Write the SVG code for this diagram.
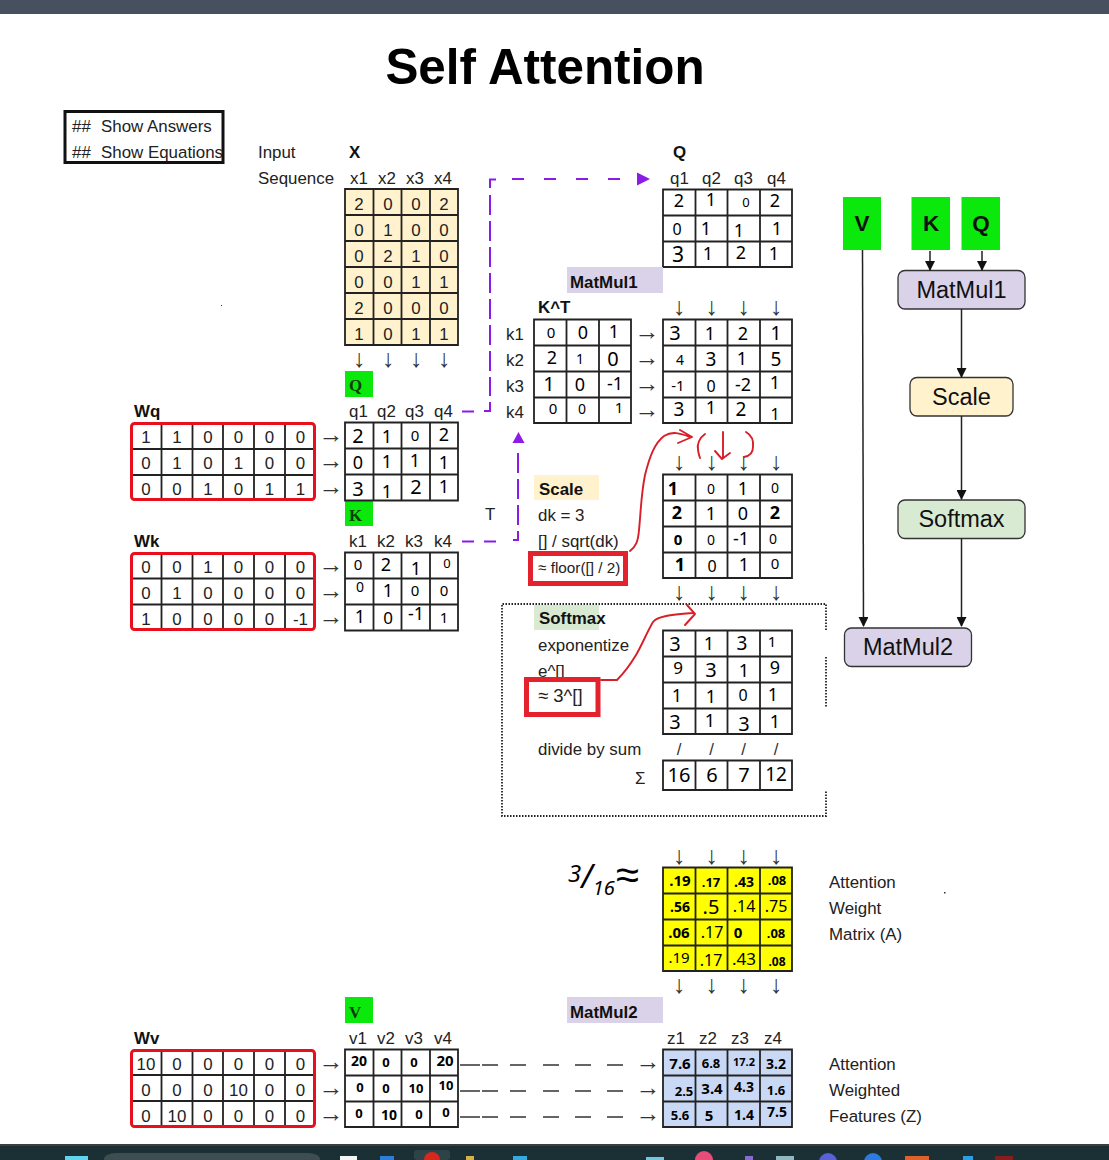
<svg xmlns="http://www.w3.org/2000/svg" width="1109" height="1160" viewBox="0 0 1109 1160">
<defs>
<marker id="ah" markerWidth="10" markerHeight="10" refX="9" refY="5" orient="auto" markerUnits="userSpaceOnUse"><path d="M0 0L10 5L0 10Z" fill="#111"/></marker>
</defs>
<style>
text{font-family:"Liberation Sans",Arial,sans-serif;font-size:16.9px;fill:#222}
.b{font-weight:700;fill:#111}
.c{text-anchor:middle}
.a{text-anchor:middle;fill:#333;font-size:25px}
.d{text-anchor:middle;fill:#333}
.s{font-family:"Liberation Serif",serif;font-weight:700;fill:#0b3a0b}
.h{font-family:"Noto Sans",sans-serif;font-size:18px;text-anchor:middle;fill:#000}
.m{font-family:"Noto Sans",sans-serif;font-size:13px;font-weight:700;text-anchor:middle;fill:#000}
.n{font-size:23.5px;text-anchor:middle;fill:#111}
.k{font-size:22.5px;font-weight:700;text-anchor:middle;fill:#111}
.g{fill:none;stroke:#222;stroke-width:1.8}
.r{fill:none;stroke:#e8101c;stroke-width:3;}
.rr{fill:none;stroke:#e3222d;stroke-width:5}
.w{fill:none;stroke:#d81e28;stroke-width:1.9;stroke-linecap:round;stroke-linejoin:round}
.p{fill:none;stroke:#8b1ce8;stroke-width:2}
.f{stroke:#222;stroke-width:1.5;fill:none}
.n1{stroke:#333;stroke-width:1.3}
</style>
<rect width="1109" height="1160" fill="#fff"/>
<rect width="1109" height="14" fill="#46505f"/>

<g id="taskbar">
<rect y="1144" width="1109" height="16" fill="#1b3035"/>
<rect y="1144" width="1109" height="2" fill="#3a3f40"/>
<rect x="65" y="1156" width="23" height="4" fill="#5fd4ee"/>
<rect x="104" y="1153" width="216" height="12" rx="12" fill="#3d4d50"/>
<rect x="340" y="1156" width="17" height="4" fill="#f4f4f4"/>
<rect x="380" y="1156" width="14" height="4" fill="#2b7fd6"/>
<rect x="414" y="1150" width="36" height="10" rx="3" fill="#2d4347"/>
<circle cx="432" cy="1160" r="8" fill="#d8281e"/>
<rect x="466" y="1156" width="8" height="4" fill="#d8b04a"/>
<rect x="513" y="1156" width="14" height="4" fill="#35a8e0"/>
<rect x="646" y="1157" width="18" height="3" fill="#6fc8e0"/>
<circle cx="704" cy="1160" r="9" fill="#e84c78"/>
<rect x="745" y="1156" width="8" height="4" fill="#8a6ad0"/>
<rect x="776" y="1156" width="18" height="4" fill="#8fb8c0"/>
<circle cx="828" cy="1162" r="9" fill="#5a60d8"/>
<circle cx="873" cy="1162" r="9" fill="#2f7ae0"/>
<rect x="905" y="1156" width="24" height="4" fill="#e0602a"/>
<rect x="963" y="1156" width="10" height="4" fill="#2d9fe0"/>
<rect x="995" y="1156" width="18" height="4" fill="#8a1c1c"/>
</g>

<text id="title" x="545" y="84" text-anchor="middle" style="font-size:49.400px;font-weight:700;fill:#000">Self Attention</text>
<rect x="221" y="305" width="1" height="1" fill="#333"/>
<rect x="944" y="892" width="1.5" height="1.5" fill="#333"/>

<g id="show-box">
<rect x="65" y="111.500" width="158" height="51" fill="none" stroke="#111" stroke-width="3"/>
<text x="72" y="132">##</text><text x="101" y="132">Show Answers</text>
<text x="72" y="158">##</text><text x="101" y="158">Show Equations</text>
</g>

<g id="labels">
<text x="258" y="158">Input</text><text x="258" y="184">Sequence</text>
<text x="349" y="158" class="b">X</text>
<text x="350" y="184">x1</text><text x="378" y="184">x2</text><text x="406" y="184">x3</text><text x="434" y="184">x4</text>
<text x="485" y="520">T</text>
</g>

<g id="matrix-x">
<rect x="345" y="189" width="113" height="156" fill="#fff2cc"/>
<path class="g" d="M345 189H458V345H345ZM373.500 189V345M401.500 189V345M430 189V345M345 215H458M345 241H458M345 267H458M345 293H458M345 319H458"/>
<text class="c" x="359" y="210">2</text><text class="c" x="388" y="210">0</text><text class="c" x="416" y="210">0</text><text class="c" x="444" y="210">2</text>
<text class="c" x="359" y="236">0</text><text class="c" x="388" y="236">1</text><text class="c" x="416" y="236">0</text><text class="c" x="444" y="236">0</text>
<text class="c" x="359" y="262">0</text><text class="c" x="388" y="262">2</text><text class="c" x="416" y="262">1</text><text class="c" x="444" y="262">0</text>
<text class="c" x="359" y="288">0</text><text class="c" x="388" y="288">0</text><text class="c" x="416" y="288">1</text><text class="c" x="444" y="288">1</text>
<text class="c" x="359" y="314">2</text><text class="c" x="388" y="314">0</text><text class="c" x="416" y="314">0</text><text class="c" x="444" y="314">0</text>
<text class="c" x="359" y="340">1</text><text class="c" x="388" y="340">0</text><text class="c" x="416" y="340">1</text><text class="c" x="444" y="340">1</text>
<text class="a" x="359" y="367">↓</text><text class="a" x="388" y="367">↓</text><text class="a" x="416" y="367">↓</text><text class="a" x="444" y="367">↓</text>
</g>

<g id="tag-q"><rect x="345" y="371" width="28" height="26" fill="#0be80b"/><text class="s" x="349" y="391">Q</text></g>
<g id="tag-k"><rect x="345" y="501" width="28" height="25" fill="#0be80b"/><text class="s" x="349" y="521">K</text></g>
<g id="tag-v"><rect x="345" y="997" width="28" height="26" fill="#0be80b"/><text class="s" x="349" y="1018">V</text></g>

<g id="wq">
<text class="b" x="134" y="417">Wq</text>
<path class="g" d="M161.500 422V501M192.500 422V501M223 422V501M254 422V501M285 422V501M130 449H316M130 475H316"/>
<rect class="r" x="131.500" y="423.500" width="183" height="76" rx="3"/>
<text class="c" x="146" y="443">1</text><text class="c" x="177" y="443">1</text><text class="c" x="208" y="443">0</text><text class="c" x="238.500" y="443">0</text><text class="c" x="269.500" y="443">0</text><text class="c" x="300.500" y="443">0</text>
<text class="c" x="146" y="469">0</text><text class="c" x="177" y="469">1</text><text class="c" x="208" y="469">0</text><text class="c" x="238.500" y="469">1</text><text class="c" x="269.500" y="469">0</text><text class="c" x="300.500" y="469">0</text>
<text class="c" x="146" y="495">0</text><text class="c" x="177" y="495">0</text><text class="c" x="208" y="495">1</text><text class="c" x="238.500" y="495">0</text><text class="c" x="269.500" y="495">1</text><text class="c" x="300.500" y="495">1</text>
<text class="a" x="331" y="442.500">→</text><text class="a" x="331" y="468.500">→</text><text class="a" x="331" y="494.500">→</text>
</g>

<g id="wk">
<text class="b" x="134" y="547">Wk</text>
<path class="g" d="M161.500 552V631M192.500 552V631M223 552V631M254 552V631M285 552V631M130 578.500H316M130 604.500H316"/>
<rect class="r" x="131.500" y="553.500" width="183" height="76" rx="3"/>
<text class="c" x="146" y="573">0</text><text class="c" x="177" y="573">0</text><text class="c" x="208" y="573">1</text><text class="c" x="238.500" y="573">0</text><text class="c" x="269.500" y="573">0</text><text class="c" x="300.500" y="573">0</text>
<text class="c" x="146" y="599">0</text><text class="c" x="177" y="599">1</text><text class="c" x="208" y="599">0</text><text class="c" x="238.500" y="599">0</text><text class="c" x="269.500" y="599">0</text><text class="c" x="300.500" y="599">0</text>
<text class="c" x="146" y="625">1</text><text class="c" x="177" y="625">0</text><text class="c" x="208" y="625">0</text><text class="c" x="238.500" y="625">0</text><text class="c" x="269.500" y="625">0</text><text class="c" x="300.500" y="625">-1</text>
<text class="a" x="331" y="572.500">→</text><text class="a" x="331" y="598.500">→</text><text class="a" x="331" y="624.500">→</text>
</g>

<g id="wv">
<text class="b" x="134" y="1044">Wv</text>
<path class="g" d="M161.500 1049V1128M192.500 1049V1128M223 1049V1128M254 1049V1128M285 1049V1128M130 1075H316M130 1101H316"/>
<rect class="r" x="131.500" y="1050.500" width="183" height="76" rx="3"/>
<text class="c" x="146" y="1070">10</text><text class="c" x="177" y="1070">0</text><text class="c" x="208" y="1070">0</text><text class="c" x="238.500" y="1070">0</text><text class="c" x="269.500" y="1070">0</text><text class="c" x="300.500" y="1070">0</text>
<text class="c" x="146" y="1096">0</text><text class="c" x="177" y="1096">0</text><text class="c" x="208" y="1096">0</text><text class="c" x="238.500" y="1096">10</text><text class="c" x="269.500" y="1096">0</text><text class="c" x="300.500" y="1096">0</text>
<text class="c" x="146" y="1122">0</text><text class="c" x="177" y="1122">10</text><text class="c" x="208" y="1122">0</text><text class="c" x="238.500" y="1122">0</text><text class="c" x="269.500" y="1122">0</text><text class="c" x="300.500" y="1122">0</text>
<text class="a" x="331" y="1069.500">→</text><text class="a" x="331" y="1095.500">→</text><text class="a" x="331" y="1121.500">→</text>
</g>

<g id="matrix-q">
<text x="349" y="417">q1</text><text x="377" y="417">q2</text><text x="405" y="417">q3</text><text x="434" y="417">q4</text>
<path class="g" d="M345 422.500H458V500.500H345ZM373.500 422.500V500.500M401.500 422.500V500.500M430 422.500V500.500M345 448.500H458M345 474.500H458"/>
<text class="h" x="358" y="443" style="font-size:20px">2</text><text class="h" x="387" y="443">1</text><text class="h" x="415" y="441" style="font-size:15px">0</text><text class="h" x="444" y="441">2</text>
<text class="h" x="358" y="469">0</text><text class="h" x="387" y="468">1</text><text class="h" x="415" y="467">1</text><text class="h" x="444" y="469">1</text>
<text class="h" x="358" y="496" style="font-size:20px">3</text><text class="h" x="387" y="498">1</text><text class="h" x="416" y="494" style="font-size:20px">2</text><text class="h" x="444" y="493">1</text>
</g>

<g id="matrix-k">
<text x="349" y="547">k1</text><text x="377" y="547">k2</text><text x="405" y="547">k3</text><text x="434" y="547">k4</text>
<path class="g" d="M345 552.500H458V630.500H345ZM373.500 552.500V630.500M401.500 552.500V630.500M430 552.500V630.500M345 578.500H458M345 604.500H458"/>
<text class="h" x="358" y="570" style="font-size:15px">0</text><text class="h" x="386" y="571">2</text><text class="h" x="416" y="575">1</text><text class="h" x="447" y="568" style="font-size:13px">0</text>
<text class="h" x="360" y="592" style="font-size:14px">0</text><text class="h" x="388" y="597">1</text><text class="h" x="415" y="596" style="font-size:15px">0</text><text class="h" x="444" y="596" style="font-size:15px">0</text>
<text class="h" x="360" y="623">1</text><text class="h" x="388" y="624" style="font-size:17px">0</text><text class="h" x="416" y="620">-1</text><text class="h" x="444" y="623" style="font-size:15px">1</text>
</g>

<g id="matrix-v">
<text x="349" y="1044">v1</text><text x="377" y="1044">v2</text><text x="405" y="1044">v3</text><text x="434" y="1044">v4</text>
<path class="g" d="M345 1049.500H458V1127H345ZM373.500 1049.500V1127M401.500 1049.500V1127M430 1049.500V1127M345 1075.500H458M345 1101.500H458"/>
<text class="m" x="359" y="1066" style="font-size:14px">20</text><text class="m" x="386" y="1067">0</text><text class="m" x="414" y="1067">0</text><text class="m" x="445" y="1066" style="font-size:15px">20</text>
<text class="m" x="360" y="1092">0</text><text class="m" x="386" y="1093">0</text><text class="m" x="416" y="1093">10</text><text class="m" x="446" y="1090">10</text>
<text class="m" x="359" y="1118">0</text><text class="m" x="389" y="1120" style="font-size:14px">10</text><text class="m" x="419" y="1119">0</text><text class="m" x="446" y="1117">0</text>
</g>

<g id="matrix-q-top">
<text class="b" x="673" y="158">Q</text>
<text x="670" y="184">q1</text><text x="702" y="184">q2</text><text x="734" y="184">q3</text><text x="767" y="184">q4</text>
<path class="g" d="M663 189.500H792V267H663ZM695.500 189.500V267M727.500 189.500V267M760 189.500V267M663 215.500H792M663 241.500H792"/>
<text class="h" x="679" y="207">2</text><text class="h" x="711" y="206">1</text><text class="h" x="746" y="207" style="font-size:13px">0</text><text class="h" x="775" y="207">2</text>
<text class="h" x="677" y="235" style="font-size:16px">0</text><text class="h" x="706" y="235">1</text><text class="h" x="739" y="237">1</text><text class="h" x="777" y="235">1</text>
<text class="h" x="678" y="262" style="font-size:21px">3</text><text class="h" x="708" y="260">1</text><text class="h" x="741" y="259">2</text><text class="h" x="774" y="260">1</text>
</g>

<g id="tag-matmul1"><rect x="567" y="267" width="96" height="26" fill="#d9d2e9"/><text class="b" x="570" y="288">MatMul1</text></g>

<g id="matrix-kt">
<text class="b" x="538" y="313">K^T</text>
<text x="506" y="340">k1</text><text x="506" y="366">k2</text><text x="506" y="392">k3</text><text x="506" y="418">k4</text>
<path class="g" d="M534 319.500H631V423H534ZM566.500 319.500V423M599 319.500V423M534 345.500H631M534 371.500H631M534 397.500H631"/>
<text class="h" x="551" y="338" style="font-size:15px">0</text><text class="h" x="583" y="339">0</text><text class="h" x="614" y="338">1</text>
<text class="h" x="552" y="364">2</text><text class="h" x="580" y="364" style="font-size:14px">1</text><text class="h" x="613" y="366" style="font-size:20px">0</text>
<text class="h" x="549" y="391" style="font-size:20px">1</text><text class="h" x="580" y="391">0</text><text class="h" x="615" y="390">-1</text>
<text class="h" x="553" y="414" style="font-size:15px">0</text><text class="h" x="582" y="414" style="font-size:14px">0</text><text class="h" x="619" y="413" style="font-size:15px">1</text>
<text class="a" x="647" y="339.500">→</text><text class="a" x="647" y="365.500">→</text><text class="a" x="647" y="391.500">→</text><text class="a" x="647" y="417.500">→</text>
</g>

<g id="matrix-mm1">
<text class="a" x="679" y="315">↓</text><text class="a" x="711.500" y="315">↓</text><text class="a" x="743.500" y="315">↓</text><text class="a" x="776" y="315">↓</text>
<path class="g" d="M663 319.500H792V423H663ZM695.500 319.500V423M727.500 319.500V423M760 319.500V423M663 345.500H792M663 371.500H792M663 397.500H792"/>
<text class="h" x="675" y="340" style="font-size:20px">3</text><text class="h" x="710" y="340">1</text><text class="h" x="743" y="340">2</text><text class="h" x="776" y="340" style="font-size:19px">1</text>
<text class="h" x="680" y="365" style="font-size:14px">4</text><text class="h" x="711" y="366" style="font-size:19px">3</text><text class="h" x="742" y="365">1</text><text class="h" x="776" y="366" style="font-size:19px">5</text>
<text class="h" x="678" y="391" style="font-size:15px">-1</text><text class="h" x="711" y="392" style="font-size:16px">0</text><text class="h" x="743" y="391" style="font-size:18px">-2</text><text class="h" x="775" y="389">1</text>
<text class="h" x="679" y="416" style="font-size:19px">3</text><text class="h" x="711" y="414">1</text><text class="h" x="741" y="416" style="font-size:19px">2</text><text class="h" x="775" y="420" style="font-size:16px">1</text>
</g>

<g id="scale-tag">
<rect x="534" y="475" width="65" height="25" fill="#fff2cc"/><text class="b" x="539" y="495">Scale</text>
<text x="538" y="521">dk = 3</text><text x="538" y="547">[] / sqrt(dk)</text>
<text x="538" y="573" style="font-size:15.300px">≈ floor([] / 2)</text>
<rect class="rr" x="530.500" y="553.500" width="95" height="30"/>
</g>

<g id="matrix-scale">
<text class="a" x="679" y="469.500">↓</text><text class="a" x="711.500" y="469.500">↓</text><text class="a" x="743.500" y="469.500">↓</text><text class="a" x="776" y="469.500">↓</text>
<path class="g" d="M663 474.500H792V578H663ZM695.500 474.500V578M727.500 474.500V578M760 474.500V578M663 500.500H792M663 526.500H792M663 552.500H792"/>
<text class="h" x="673" y="495" style="font-weight:700">1</text><text class="h" x="711" y="494" style="font-size:14px">0</text><text class="h" x="743" y="495">1</text><text class="h" x="775" y="493" style="font-size:14px">0</text>
<text class="h" x="677" y="519" style="font-weight:700">2</text><text class="h" x="711" y="520">1</text><text class="h" x="743" y="520">0</text><text class="h" x="775" y="519" style="font-weight:700">2</text>
<text class="h" x="678" y="545" style="font-size:15px;font-weight:700">0</text><text class="h" x="711" y="545" style="font-size:14px">0</text><text class="h" x="741" y="545">-1</text><text class="h" x="773" y="544" style="font-size:14px">0</text>
<text class="h" x="680" y="571" style="font-weight:700">1</text><text class="h" x="712" y="572" style="font-size:16px">0</text><text class="h" x="744" y="571">1</text><text class="h" x="775" y="569" style="font-size:15px">0</text>
<text class="a" x="679" y="599.500">↓</text><text class="a" x="711.500" y="599.500">↓</text><text class="a" x="743.500" y="599.500">↓</text><text class="a" x="776" y="599.500">↓</text>
</g>

<g id="softmax-box">
<path d="M826 630V604H502V816H826V790M826 657V708" fill="none" stroke="#222" stroke-width="1.800" stroke-dasharray="1.500 1.500"/>
<rect x="534" y="605" width="65" height="25" fill="#d9ead3"/><text class="b" x="539" y="624">Softmax</text>
<text x="538" y="651">exponentize</text><text x="538" y="677">e^[]</text>
<text x="538" y="702" style="font-size:18.500px">≈ 3^[]</text>
<rect class="rr" x="526.500" y="679.500" width="71.500" height="35"/>
<text x="538" y="755">divide by sum</text><text x="635" y="784">Σ</text>
</g>

<g id="matrix-softmax">
<path class="g" d="M663 630.500H792V734H663ZM695.500 630.500V734M727.500 630.500V734M760 630.500V734M663 656.500H792M663 682.500H792M663 708.500H792"/>
<text class="h" x="675" y="651" style="font-size:20px">3</text><text class="h" x="709" y="650">1</text><text class="h" x="742" y="650" style="font-size:19px">3</text><text class="h" x="772" y="647" style="font-size:15px">1</text>
<text class="h" x="678" y="674" style="font-size:17px">9</text><text class="h" x="711" y="677" style="font-size:20px">3</text><text class="h" x="744" y="677">1</text><text class="h" x="775" y="674">9</text>
<text class="h" x="677" y="702">1</text><text class="h" x="711" y="703">1</text><text class="h" x="743" y="701" style="font-size:16px">0</text><text class="h" x="773" y="701">1</text>
<text class="h" x="675" y="729" style="font-size:20px">3</text><text class="h" x="710" y="727">1</text><text class="h" x="744" y="731" style="font-size:20px">3</text><text class="h" x="775" y="728">1</text>
<text class="d" x="679" y="755">/</text><text class="d" x="711.500" y="755">/</text><text class="d" x="743.500" y="755">/</text><text class="d" x="776" y="755">/</text>
</g>

<g id="matrix-sum">
<path class="g" d="M663 760.500H792V790H663ZM695.500 760.500V790M727.500 760.500V790M760 760.500V790"/>
<text class="h" x="679" y="782" style="font-size:20px">16</text><text class="h" x="712" y="782" style="font-size:20px">6</text><text class="h" x="744" y="782" style="font-size:20px">7</text><text class="h" x="776" y="781" style="font-size:19px">12</text>
</g>

<g id="annotations">
<path class="w" d="M630 551C636 546 638 542 639 530C641 510 641 495 645 475C650 455 655 443 664 436C672 431 680 433 690 437M680 430L692 437L678 443"/>
<path class="w" d="M705 434C699 438 697 445 698 449C698 452 699 455 700 458M723 432C723 440 723 450 723 458M715 451L722 459L730 453M746 432C751 435 754 440 753 447C753 453 750 456 744 457"/>
<path class="w" d="M601 680L617 680C623 674 630 665 636 655C642 645 647 632 653 622C658 616 670 615 693 613M687 605L695 614L685 625"/>
<text id="hand-fraction" x="568" y="882" style="font-family:'Noto Sans',sans-serif;font-size:24px;font-style:italic;fill:#000">3<tspan dy="6" style="font-size:32px">/</tspan><tspan dy="7" style="font-size:20px">16</tspan><tspan dy="-6" dx="1" style="font-size:42px">≈</tspan></text>
</g>

<g id="matrix-a">
<text class="a" x="679" y="863.500">↓</text><text class="a" x="711.500" y="863.500">↓</text><text class="a" x="743.500" y="863.500">↓</text><text class="a" x="776" y="863.500">↓</text>
<rect x="663" y="867" width="129" height="104" fill="#ffff00"/>
<path class="g" d="M663 867.500H792V971H663ZM695.500 867.500V971M727.500 867.500V971M760 867.500V971M663 893.500H792M663 919.500H792M663 945.500H792"/>
<text class="m" x="680" y="886" style="font-size:15px">.19</text><text class="m" x="711" y="887">.17</text><text class="m" x="744" y="887" style="font-size:14px">.43</text><text class="m" x="777" y="885">.08</text>
<text class="m" x="680" y="912" style="font-size:14px">.56</text><text class="m" x="711" y="914" style="font-size:20px;font-weight:400">.5</text><text class="m" x="744" y="912" style="font-size:16px;font-weight:400">.14</text><text class="m" x="776" y="912" style="font-size:16px;font-weight:400">.75</text>
<text class="m" x="679" y="938" style="font-size:15px">.06</text><text class="m" x="712" y="938" style="font-size:16px;font-weight:400">.17</text><text class="m" x="738" y="938" style="font-size:15px">0</text><text class="m" x="776" y="938">.08</text>
<text class="m" x="679" y="963" style="font-size:15px;font-weight:400">.19</text><text class="m" x="711" y="966" style="font-size:16px;font-weight:400">.17</text><text class="m" x="744" y="965" style="font-size:17px;font-weight:400">.43</text><text class="m" x="777" y="966" style="font-size:12px">.08</text>
<text class="a" x="679" y="992.500">↓</text><text class="a" x="711.500" y="992.500">↓</text><text class="a" x="743.500" y="992.500">↓</text><text class="a" x="776" y="992.500">↓</text>
<text x="829" y="888">Attention</text><text x="829" y="914">Weight</text><text x="829" y="940">Matrix (A)</text>
</g>

<g id="tag-matmul2"><rect x="567" y="997" width="96" height="26" fill="#d9d2e9"/><text class="b" x="570" y="1018">MatMul2</text></g>

<g id="matrix-z">
<text x="667" y="1044">z1</text><text x="699" y="1044">z2</text><text x="731" y="1044">z3</text><text x="764" y="1044">z4</text>
<rect x="663" y="1049" width="129" height="78" fill="#c9d9f5"/>
<path class="g" d="M663 1049.500H792V1127H663ZM695.500 1049.500V1127M727.500 1049.500V1127M760 1049.500V1127M663 1075.500H792M663 1101.500H792"/>
<text class="m" x="680" y="1069" style="font-size:15px">7.6</text><text class="m" x="711" y="1068">6.8</text><text class="m" x="744" y="1066" style="font-size:11px">17.2</text><text class="m" x="776" y="1069" style="font-size:14px">3.2</text>
<text class="m" x="684" y="1096">2.5</text><text class="m" x="712" y="1094" style="font-size:15px">3.4</text><text class="m" x="744" y="1092" style="font-size:14px">4.3</text><text class="m" x="776" y="1095">1.6</text>
<text class="m" x="680" y="1120">5.6</text><text class="m" x="709" y="1121" style="font-size:15px">5</text><text class="m" x="744" y="1120" style="font-size:14px">1.4</text><text class="m" x="777" y="1117" style="font-size:14px">7.5</text>
<text class="a" x="648" y="1069.500">→</text><text class="a" x="648" y="1095.500">→</text><text class="a" x="648" y="1121.500">→</text>
<text x="829" y="1070">Attention</text><text x="829" y="1096">Weighted</text><text x="829" y="1122">Features (Z)</text>
</g>

<g id="flow-v"><rect x="843" y="197" width="38" height="53" fill="#0be80b"/><text class="k" x="862" y="231">V</text></g>
<g id="flow-k"><rect x="911.500" y="197" width="38.500" height="53" fill="#0be80b"/><text class="k" x="931" y="231">K</text></g>
<g id="flow-q"><rect x="961.500" y="197" width="38.500" height="53" fill="#0be80b"/><text class="k" x="981" y="231">Q</text></g>
<g id="flow-matmul1"><rect x="898" y="270.500" width="127" height="38.500" rx="7" fill="#d9d2e9" stroke="#333" stroke-width="1.300"/><text class="n" x="961.500" y="298">MatMul1</text></g>
<g id="flow-scale"><rect x="910" y="377.500" width="103" height="38.500" rx="7" fill="#fff2cc" stroke="#333" stroke-width="1.300"/><text class="n" x="961.500" y="405">Scale</text></g>
<g id="flow-softmax"><rect x="898" y="500" width="127" height="38.500" rx="7" fill="#d9ead3" stroke="#333" stroke-width="1.300"/><text class="n" x="961.500" y="527">Softmax</text></g>
<g id="flow-matmul2"><rect x="844.500" y="628" width="127" height="38.500" rx="7" fill="#d9d2e9" stroke="#333" stroke-width="1.300"/><text class="n" x="908" y="655">MatMul2</text></g>

<g id="connectors">
<path class="f" marker-end="url(#ah)" d="M862.500 250L863.500 626"/>
<path class="f" marker-end="url(#ah)" d="M930 251V270"/>
<path class="f" marker-end="url(#ah)" d="M982 251V270"/>
<path class="f" marker-end="url(#ah)" d="M961.500 309V377"/>
<path class="f" marker-end="url(#ah)" d="M961.500 416V499"/>
<path class="f" marker-end="url(#ah)" d="M961.500 538V626"/>
<path class="p" d="M462 411.500H474M484 411H490V402M490 188V179.500H496M512 179H524M544 179H556M576 179H588M608 179H620"/>
<path class="p" d="M490 195V396" stroke-dasharray="20 6"/>
<path d="M637 172.500L650 179L637 185.500Z" fill="#8b1ce8"/>
<path class="p" d="M462 541.500H474M484 541.500H496M513 540H518V531"/>
<path class="p" d="M518 453V525" stroke-dasharray="20 6"/>
<path d="M518.500 432L524.500 443H512.500Z" fill="#8b1ce8"/>
<path class="n1" d="M460 1065H480M482 1065H498M510 1065H526M543 1065H559M575 1065H591M607 1065H623M460 1091H480M482 1091H498M510 1091H526M543 1091H559M575 1091H591M607 1091H623M460 1117H480M482 1117H498M510 1117H526M543 1117H559M575 1117H591M607 1117H623"/>
</g>
</svg>
